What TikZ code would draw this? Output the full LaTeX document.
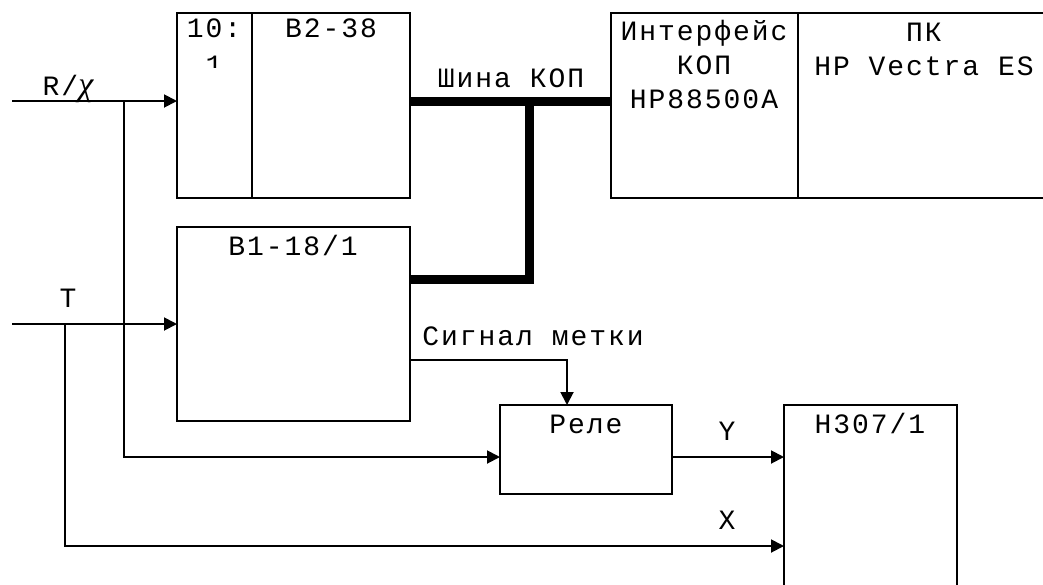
\documentclass[tikz,border=0pt]{standalone}
\usepackage{fontspec}
\setmonofont[LetterSpace=7]{Liberation Mono}
\newfontfamily\chifont{Liberation Serif}
\usetikzlibrary{arrows.meta,positioning}

\begin{document}
\begin{tikzpicture}[
  x=1pt, y=-1pt,
  box/.style={draw, line width=1.9pt, anchor=north west, inner sep=0pt, outer sep=0pt},
  lbl/.style={font=\ttfamily\fontsize{28}{34}\selectfont, inner sep=0pt, anchor=base},
  sig/.style={line width=1.9pt},
  arr/.style={sig, -{Triangle[length=13pt,width=13pt]}},
  bus/.style={line width=9pt}
]
\clip (0,0) rectangle (1043,584);

% blocks
\node[box, minimum width=75pt, minimum height=185pt] (div) at (177,13) {};
\node[box, minimum width=158pt, minimum height=185pt] (b238) at (252,13) {};
\node[box, minimum width=187pt, minimum height=185pt] (iface) at (611,13) {};
\node[box, minimum width=252pt, minimum height=185pt] (pc) at (798,13) {};
\node[box, minimum width=233pt, minimum height=194pt] (b118) at (177,227) {};
\node[box, minimum width=172pt, minimum height=89pt] (rele) at (500,405) {};
\node[box, line width=2.6pt, minimum width=173pt, minimum height=200pt] (h307) at (784,405) {};

% texts in blocks (base = last line)
\begin{scope}
  \clip (177,13) rectangle (252,67);
  \node[lbl, align=center] at (214,74) {10:\\[3pt]1};
\end{scope}
\node[lbl] at (331,37) {B2-38};
\node[lbl, align=center] at (704,108) {Интерфейс\\КОП\\HP88500A};
\node[lbl, align=center] at (924,75) {ПК\\HP Vectra ES};
\node[lbl] at (293,255) {B1-18/1};
\node[lbl] at (586,433) {Реле};
\node[lbl] at (870,433) {H307/1};

% inputs
\coordinate (rin) at (12,101);
\coordinate (rj) at (124,101);
\coordinate (tin) at (12,324);
\coordinate (tj) at (65,324);
\coordinate (ylev) at (0,457);
\coordinate (xlev) at (0,546);
\coordinate (bj) at (529.5,101);

\draw[arr] (rin) -- (rin -| div.west);
\node[lbl] at (68,95) {R/{\chifont\itshape\fontsize{34}{34}\selectfont χ}};
\draw[arr] (tin) -- (tin -| b118.west);
\node[lbl] at (68,307) {T};

\draw[arr] (rj) |- (ylev -| rele.west);
\draw[arr] (tj) |- (xlev -| h307.west);
\node[lbl] at (727,529) {X};

% bus
\draw[bus] (rin -| b238.east) -- (rin -| iface.west);
\draw[bus] (bj) |- ([yshift=45pt]b118.east);
\node[lbl] at (511,87) {Шина КОП};

% relay
\draw[arr] ([yshift=-36pt]b118.east) -| ([xshift=-19pt]rele.north);
\node[lbl] at (533,345) {Сигнал метки};
\draw[arr] (ylev -| rele.east) -- (ylev -| h307.west);
\node[lbl] at (727,440) {Y};
\end{tikzpicture}
\end{document}
